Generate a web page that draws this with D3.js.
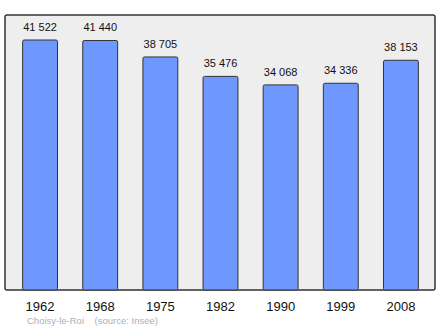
<!DOCTYPE html>
<html>
<head>
<meta charset="utf-8">
<script src="https://cdn.jsdelivr.net/npm/d3@7"></script>
<style>
  body { margin: 0; background: #fff; }
  svg text { font-family: "Liberation Sans", Arial, sans-serif; }
</style>
</head>
<body>
<div id="chart"></div>
<script>
// data
const years = ["1962", "1968", "1975", "1982", "1990", "1999", "2008"];
const population = [41522, 41440, 38705, 35476, 34068, 34336, 38153];
const labels = ["41 522", "41 440", "38 705", "35 476", "34 068", "34 336", "38 153"];

const width = 440, height = 329;
const frame = { left: 5, top: 15, right: 435, bottom: 290 };

const svg = d3.select("#chart")
    .append("svg")
    .attr("width", width)
    .attr("height", height);

// background frame
svg.append("rect")
    .attr("x", frame.left)
    .attr("y", frame.top)
    .attr("width", frame.right - frame.left)
    .attr("height", frame.bottom - frame.top)
    .attr("rx", 2)
    .attr("fill", "#eeeeee")
    .attr("stroke", "#333")
    .attr("stroke-width", 1.5);

var x = d3.scaleBand()
    .domain(years)
    .range([10, 431])
    .paddingInner(0.42)
    .paddingOuter(0.21);

var y = d3.scaleLinear()
    .domain([0, 41522 * 1.1])
    .range([frame.bottom, frame.top]);

const data = years.map((d, i) => ({ year: d, value: population[i], label: labels[i] }));

//bars
svg.selectAll("rect.bar")
    .data(data)
    .enter()
    .append("rect")
    .attr("class", "bar")
    .attr("x", d => x(d.year))
    .attr("y", d => y(d.value))
    .attr("width", x.bandwidth())
    .attr("height", d => y(0) - y(d.value))
    .attr("rx", 1.5)
    .attr("fill", "#6f98fe")
    .attr("stroke", "#333")
    .attr("stroke-width", 1);

//value labels
svg.selectAll("text.value")
    .data(data)
    .enter()
    .append("text")
    .attr("class", "value")
    .attr("x", d => x(d.year) + x.bandwidth() / 2)
    .attr("y", d => y(d.value) - 9)
    .attr("text-anchor", "middle")
    .attr("font-size", 11)
    .attr("fill", "#111")
    .text(d => d.label);

// x axis labels
var xAxis = svg.append("g")
    .attr("transform", `translate(0,${frame.bottom})`)
    .call(d3.axisBottom(x).tickSize(0).tickPadding(12));
xAxis.select(".domain").remove();
xAxis.selectAll(".tick text")
    .attr("font-size", 13)
    .attr("fill", "#111")
    .style("font-family", "Liberation Sans, Arial, sans-serif");

// source
svg.append("text")
    .attr("x", 27)
    .attr("y", 324)
    .attr("font-size", 9.5)
    .attr("fill", "#b0b0b0")
    .attr("xml:space", "preserve")
    .text("Choisy-le-Roi    (source: Insee)");
</script>
</body>
</html>
